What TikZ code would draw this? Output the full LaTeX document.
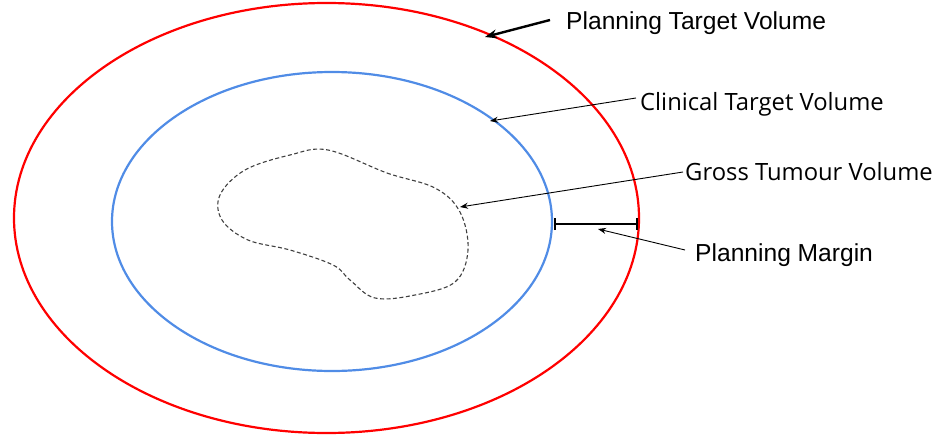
\documentclass[tikz,border=0pt]{standalone}
\usepackage{fontspec}
\setmainfont{Liberation Sans}
\newfontfamily\opensans{Open Sans}
\usetikzlibrary{arrows.meta}
\begin{document}
\begin{tikzpicture}[x=1pt,y=-1pt,
  lbl/.style={anchor=base west,inner sep=0pt,font=\fontsize{24.6}{28}\selectfont},
  lblo/.style={anchor=base west,inner sep=0pt,font=\opensans\fontsize{23.8}{28}\selectfont},
  thinarrow/.style={-{Stealth[length=8pt,width=6pt]},line width=0.9pt,black},
  thickarrow/.style={-{Stealth[length=12pt,width=9pt]},line width=2.4pt,black}]
\useasboundingbox (0,0) rectangle (936,436);
% ellipses
\draw[red,line width=2.2pt] (326.5,218) ellipse [x radius=312.5,y radius=215];
\draw[color={rgb,255:red,80;green,140;blue,230},line width=2.2pt] (332,221.5) ellipse [x radius=220,y radius=149.5];
% gross tumour
\draw[black!75,line width=1.1pt,dash pattern=on 4pt off 2.5pt] plot[smooth cycle,tension=0.6] coordinates {
 (328,150) (387,173) (435,188) (460,212) (468,250) (455,282) (415,295) (375,298)
 (350,280) (333,265) (290,250) (248,240) (222,220) (220,195) (245,170) (290,155)};
% labels
\node[lbl] (ptv) at (566,30) {Planning Target Volume};
\node[lblo] (ctv) at (640,110) {Clinical Target Volume};
\node[lblo] (gtv) at (685,180) {Gross Tumour Volume};
\node[lbl] (pm) at (695,261) {Planning Margin};
% arrows
\coordinate (ptvs) at (550,20);
\coordinate (ptve) at (485,37);
\draw[thickarrow] (ptvs) -- (ptve);
\coordinate (ctvs) at (636,98);
\coordinate (ctve) at (490,121);
\draw[thinarrow] (ctvs) -- (ctve);
\coordinate (gtvs) at (683,172);
\coordinate (gtve) at (460,207);
\draw[thinarrow] (gtvs) -- (gtve);
\coordinate (m1) at (554,224);
\coordinate (m2) at (638,224);
\draw[line width=2.2pt,{Bar[width=12pt]}-{Bar[width=12pt]}] (m1) -- (m2);
\coordinate (pms) at (685,250);
\coordinate (pme) at (598,229);
\draw[thinarrow] (pms) -- (pme);
\end{tikzpicture}
\end{document}
